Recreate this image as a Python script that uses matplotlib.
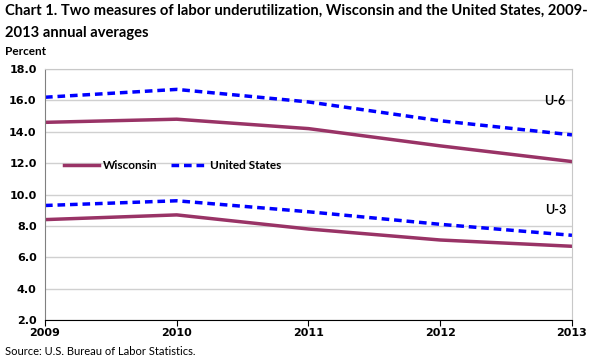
import matplotlib
matplotlib.use('Agg')
import matplotlib.pyplot as plt

years = [2009, 2010, 2011, 2012, 2013]
wi_u6 = [14.6, 14.8, 14.2, 13.1, 12.1]
us_u6 = [16.2, 16.7, 15.9, 14.7, 13.8]
wi_u3 = [8.4, 8.7, 7.8, 7.1, 6.7]
us_u3 = [9.3, 9.6, 8.9, 8.1, 7.4]

WI_COLOR = '#993366'
US_COLOR = '#0000ff'


def main():
  fig = plt.figure(figsize=(6.01, 3.59), dpi=100)
  ax = fig.add_axes([0.0749, 0.1086, 0.8768, 0.6992])

  ax.plot(years, wi_u6, color=WI_COLOR, lw=2.5, label='Wisconsin')
  ax.plot(years, us_u6, color=US_COLOR, lw=2.5, ls=(0, (2.2, 1.4)), label='United States')
  ax.plot(years, wi_u3, color=WI_COLOR, lw=2.5)
  ax.plot(years, us_u3, color=US_COLOR, lw=2.5, ls=(0, (2.2, 1.4)))

  ax.set_xlim(2009, 2013)
  ax.set_ylim(2, 18)
  ax.set_xticks(years)
  ax.set_yticks(range(2, 19, 2))
  ax.set_yticklabels(['%.1f' % v for v in range(2, 19, 2)])
  ax.grid(axis='y', color='#d0d0d0', lw=1)
  ax.set_axisbelow(True)
  for lab in ax.get_xticklabels() + ax.get_yticklabels():
    lab.set_fontweight('bold')
    lab.set_fontsize(8)
  ax.tick_params(axis='y', length=0, pad=6)
  ax.tick_params(axis='x', length=4, direction='out', color='black', pad=2)
  ax.spines['left'].set_color('#808080')
  ax.spines['bottom'].set_color('black')
  ax.spines['top'].set_color('#c8c8c8')
  ax.spines['right'].set_color('#c8c8c8')

  ax.text(2012.947, 15.95, 'U-6', ha='right', va='center', fontsize=9, fontweight='bold',
          family='Lato')
  ax.text(2012.96, 9.0, 'U-3', ha='right', va='center', fontsize=9, fontweight='bold',
          family='Lato')

  ax.legend(loc='center left', bbox_to_anchor=(0.015, 0.614), ncol=2, frameon=False,
            handlelength=3.0, columnspacing=1.2, handletextpad=0.3,
            prop={'family': 'Lato', 'weight': 'bold', 'size': 8.5})

  fig.text(0.008, 0.99, 'Chart 1. Two measures of labor underutilization, Wisconsin and the United States, 2009-\n2013 annual averages',
           ha='left', va='top', fontsize=10.6, fontweight='bold', family='Lato', linespacing=1.75)
  fig.text(0.008, 0.857, 'Percent', ha='left', va='center', fontsize=8.5, fontweight='bold',
           family='Lato')
  fig.text(0.008, 0.022, 'Source: U.S. Bureau of Labor Statistics.', ha='left', va='center',
           fontsize=8, family='Lato')

  fig.savefig('out.png', dpi=100)


if __name__ == '__main__':
  main()
